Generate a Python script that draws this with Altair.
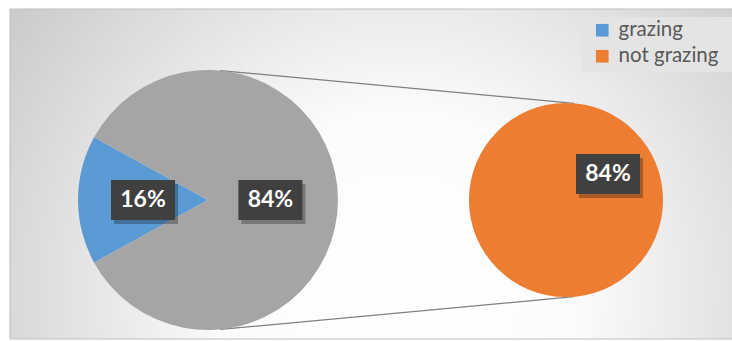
import math
import altair as alt
import pandas as pd

# ---- data ----
categories = ["grazing", "not grazing"]
percent = [16, 84]
series_colors = ["#5B9BD5", "#ED7D31"]
other_name = "other"
other_color = "#A5A5A5"

# ---- layout ----
W, H = 732, 341
L_CX, L_CY, L_R = 208, 200, 130
R_CX, R_CY, R_R = 566, 200, 97
BOX_W, BOX_H = 64, 40
FONT = "Lato"

# left pie: grazing slice + the "other" slice (which is broken out on the right)
left_df = pd.DataFrame({
    "slice": [categories[0], other_name],
    "value": [percent[0], percent[1]],
    "order": [0, 1],
})
right_df = pd.DataFrame({
    "slice": [categories[1]],
    "value": [percent[1]],
    "order": [0],
})

# grazing wedge centred on 9 o'clock
start = 1.5 * math.pi - (percent[0] / sum(percent)) * math.pi

color_scale = alt.Scale(domain=categories + [other_name],
                        range=series_colors + [other_color])

legend = alt.Legend(
    title=None, values=categories, orient="none", legendX=592, legendY=20,
    symbolType="square", symbolSize=160, symbolStrokeWidth=0, symbolOpacity=1,
    labelFont=FONT, labelFontSize=20.5, labelColor="#595959", labelOffset=6,
    rowPadding=5, padding=0,
)

blank = alt.Data(values=[{}])

gradient = alt.Gradient(
    gradient="radial",
    stops=[alt.GradientStop(color="#ffffff", offset=0),
           alt.GradientStop(color="#fcfcfc", offset=0.32),
           alt.GradientStop(color="#c0c0c0", offset=1)],
    x1=0.54, y1=0.66, x2=0.54, y2=0.66, r1=0, r2=0.75,
)

background = alt.Chart(blank).mark_rect(fill=gradient, stroke="#bfbfbf", strokeWidth=1).encode(
    x=alt.value(10), x2=alt.value(W + 2), y=alt.value(9), y2=alt.value(339)
)

legend_bg = alt.Chart(blank).mark_rect(fill="#e4e4e4").encode(
    x=alt.value(581), x2=alt.value(W), y=alt.value(17), y2=alt.value(72)
)

# connector lines from the left pie to the right pie
a1 = math.radians(5.3)
a2 = math.radians(4.7)
conn = pd.DataFrame({
    "x": [L_CX + L_R * math.sin(a1), L_CX + L_R * math.sin(a1)],
    "y": [L_CY - L_R * math.cos(a1), L_CY + L_R * math.cos(a1)],
    "x2": [R_CX + R_R * math.sin(a2), R_CX + R_R * math.sin(a2)],
    "y2": [R_CY - R_R * math.cos(a2), R_CY + R_R * math.cos(a2)],
})
connectors = alt.Chart(conn).mark_rule(color="#7f7f7f", strokeWidth=1.3).encode(
    x=alt.X("x:Q", scale=None), y=alt.Y("y:Q", scale=None),
    x2="x2:Q", y2="y2:Q",
)

left_pie = alt.Chart(left_df).mark_arc(outerRadius=L_R).encode(
    theta=alt.Theta("value:Q", stack=True,
                    scale=alt.Scale(range=[start, start + 2 * math.pi])),
    order=alt.Order("order:Q"),
    color=alt.Color("slice:N", scale=color_scale, legend=legend),
    x=alt.value(L_CX), y=alt.value(L_CY),
)

right_pie = alt.Chart(right_df).mark_arc(outerRadius=R_R).encode(
    theta=alt.Theta("value:Q", stack=True),
    order=alt.Order("order:Q"),
    color=alt.Color("slice:N", scale=color_scale, legend=legend),
    x=alt.value(R_CX), y=alt.value(R_CY),
)

# data labels
labels = pd.DataFrame({
    "text": [f"{percent[0]}%", f"{percent[1]}%", f"{percent[1]}%"],
    "x": [L_CX - L_R * 0.5, L_CX + L_R * 0.48, R_CX + 42],
    "y": [L_CY, L_CY, R_CY - 26],
})
labels["x0"] = labels["x"] - BOX_W / 2
labels["x1"] = labels["x"] + BOX_W / 2
labels["y0"] = labels["y"] - BOX_H / 2
labels["y1"] = labels["y"] + BOX_H / 2
labels["sx0"] = labels["x0"] + 3
labels["sx1"] = labels["x1"] + 3
labels["sy0"] = labels["y0"] + 4
labels["sy1"] = labels["y1"] + 4

shadow = alt.Chart(labels).mark_rect(fill="#000000", opacity=0.28).encode(
    x=alt.X("sx0:Q", scale=None), x2="sx1:Q",
    y=alt.Y("sy0:Q", scale=None), y2="sy1:Q",
)
boxes = alt.Chart(labels).mark_rect(fill="#404040").encode(
    x=alt.X("x0:Q", scale=None), x2="x1:Q",
    y=alt.Y("y0:Q", scale=None), y2="y1:Q",
)
texts = alt.Chart(labels).mark_text(
    font=FONT, fontSize=23, fontWeight="bold", color="#ffffff",
    align="center", baseline="middle",
).encode(
    x=alt.X("x:Q", scale=None), y=alt.Y("y:Q", scale=None), text="text:N",
)

chart = alt.layer(
    background, connectors, legend_bg, left_pie, right_pie, shadow, boxes, texts
).resolve_scale(theta="independent").properties(
    width=W, height=H, padding=0, autosize=alt.AutoSizeParams(type="none"),
    background="#ffffff",
).configure_view(stroke=None)

chart.save("out.html", embed_options={"renderer": "svg", "actions": False})
